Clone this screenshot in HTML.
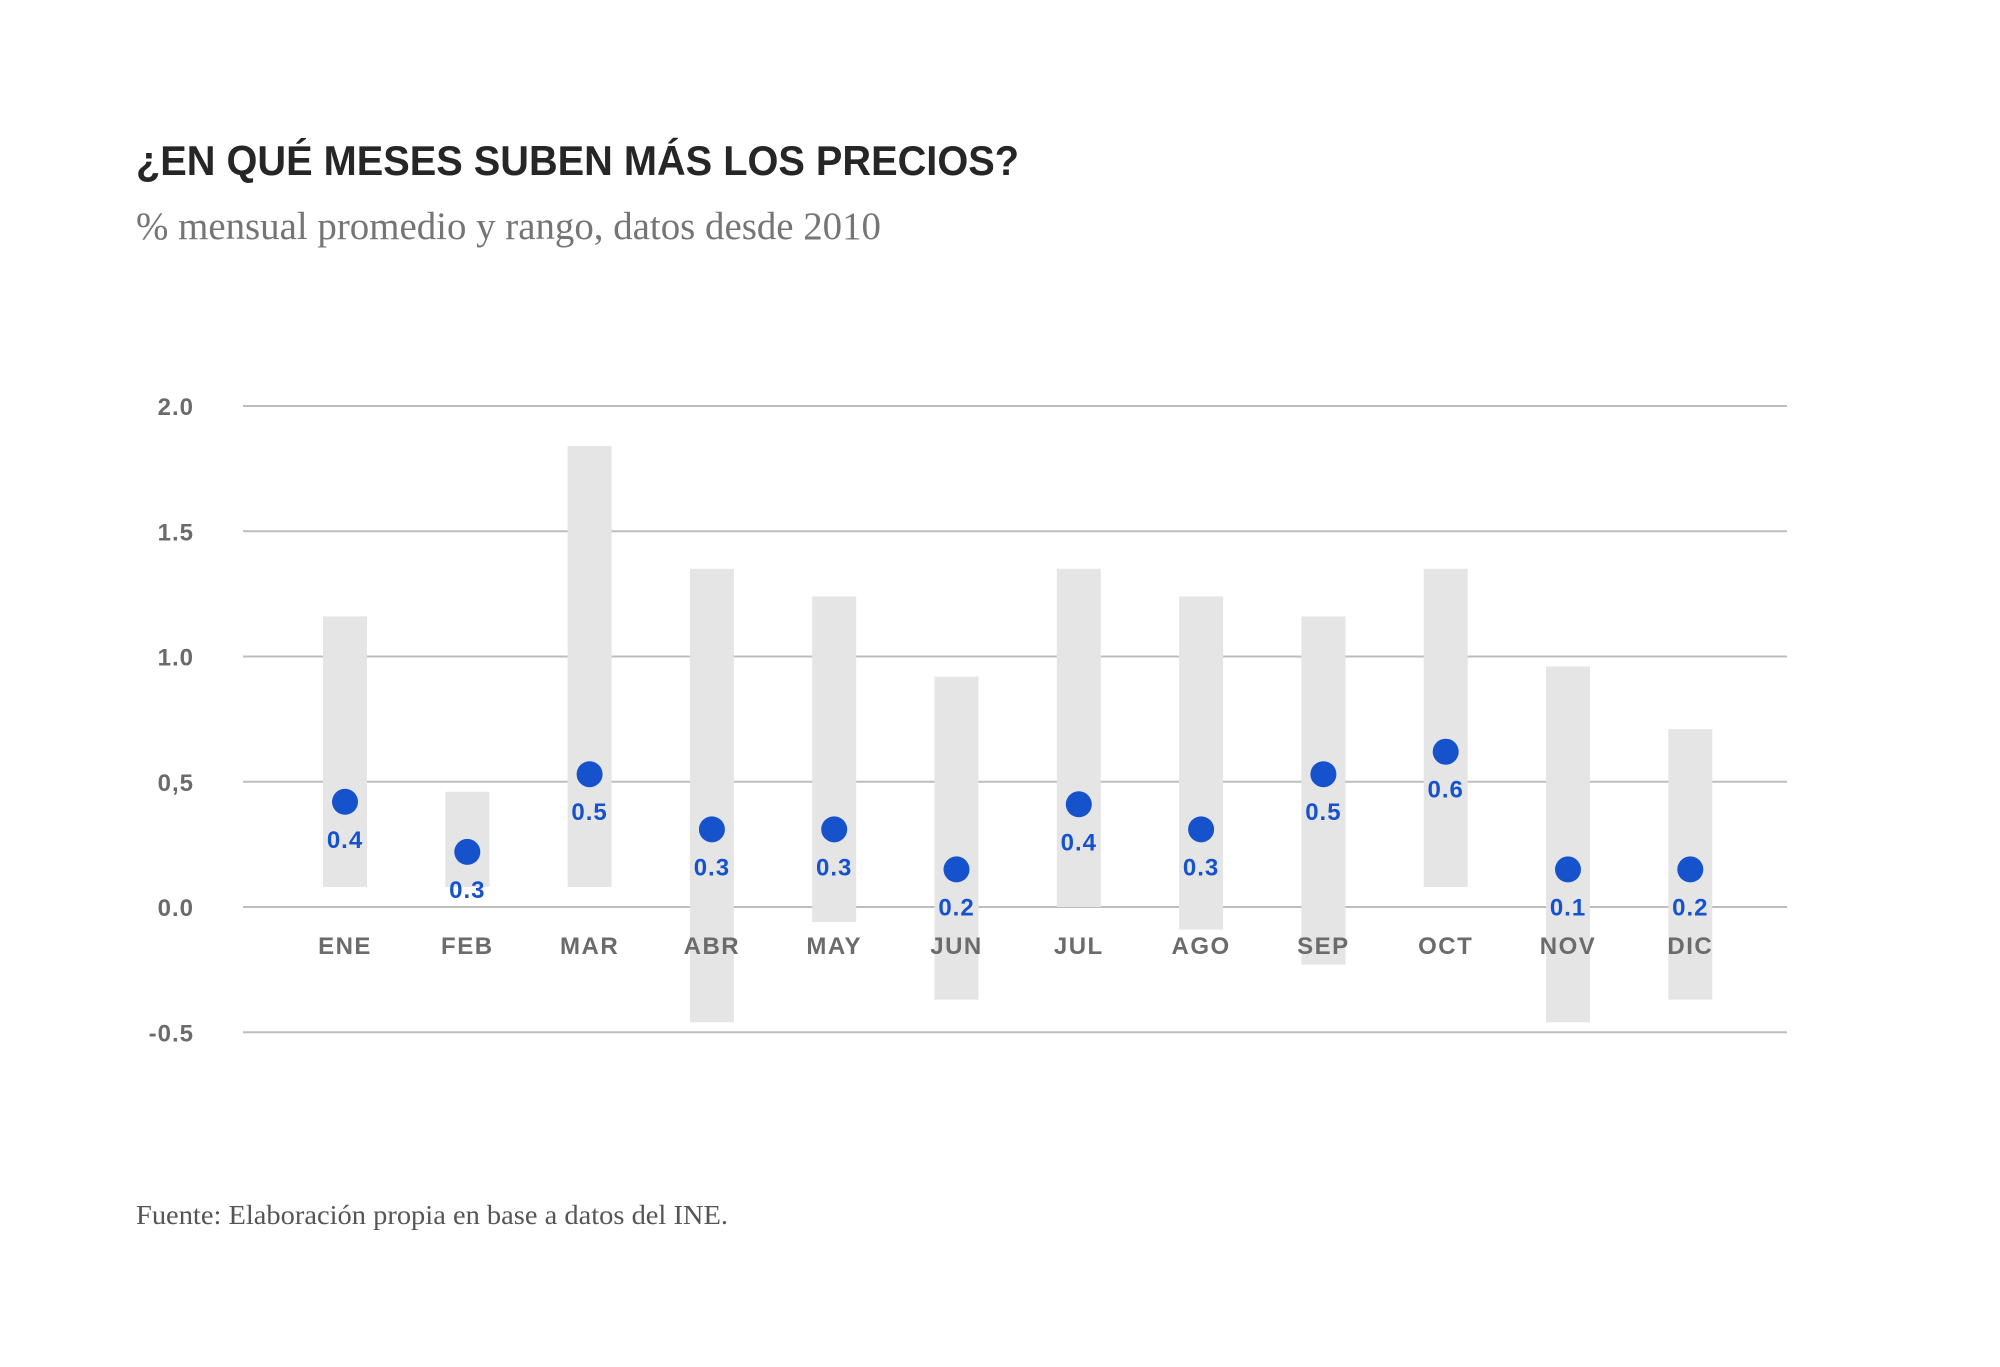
<!DOCTYPE html>
<html><head><meta charset="utf-8"><style>
html,body{margin:0;padding:0;background:#fff;}
svg{display:block;}
</style></head><body>
<svg id="chart" width="2000" height="1367" viewBox="0 0 2000 1367" xmlns="http://www.w3.org/2000/svg">
<text x="136" y="175" font-family="Liberation Sans, sans-serif" font-weight="bold" font-size="42" fill="#262626" textLength="883" lengthAdjust="spacingAndGlyphs">¿EN QUÉ MESES SUBEN MÁS LOS PRECIOS?</text>
<text x="136" y="239" font-family="Liberation Serif, serif" font-size="39" fill="#757575" textLength="745" lengthAdjust="spacingAndGlyphs">% mensual promedio y rango, datos desde 2010</text>
<text x="136" y="1224" font-family="Liberation Serif, serif" font-size="27" fill="#555" textLength="592" lengthAdjust="spacingAndGlyphs">Fuente: Elaboración propia en base a datos del INE.</text>
<g id="grid"></g><g id="bars"></g><g id="dots"></g><g id="labels"></g>
</svg>
<script>
const months=["ENE","FEB","MAR","ABR","MAY","JUN","JUL","AGO","SEP","OCT","NOV","DIC"];
const rangeMax=[1.16,0.46,1.84,1.35,1.24,0.92,1.35,1.24,1.16,1.35,0.96,0.71];
const rangeMin=[0.08,0.08,0.08,-0.46,-0.06,-0.37,0.0,-0.09,-0.23,0.08,-0.46,-0.37];
const avg=[0.42,0.22,0.53,0.31,0.31,0.15,0.41,0.31,0.53,0.62,0.15,0.15];
const valueLabels=["0.4","0.3","0.5","0.3","0.3","0.2","0.4","0.3","0.5","0.6","0.1","0.2"];
const yTicks=[2.0,1.5,1.0,0.5,0.0,-0.5];
const yTickLabels=["2.0","1.5","1.0","0,5","0.0","-0.5"];
const NS="http://www.w3.org/2000/svg";
const y=v=>907-v*250.5;
const x=i=>345+i*122.3;
function mk(tag,attrs,parent){const e=document.createElementNS(NS,tag);for(const k in attrs)e.setAttribute(k,attrs[k]);document.getElementById(parent).appendChild(e);return e;}
yTicks.forEach((t,i)=>{
  const l=mk('line',{x1:243,x2:1787,y1:y(t),y2:y(t),stroke:'#bdbdbd','stroke-width':2},'grid');
  
  
  const tx=mk('text',{x:194,y:y(t)+9,'text-anchor':'end','font-family':'Liberation Sans, sans-serif','font-weight':'bold','font-size':24,fill:'#6b6b6b','letter-spacing':1},'grid');
  tx.textContent=yTickLabels[i];
  
  
});
months.forEach((m,i)=>{
  const r=mk('rect',{x:x(i)-22,width:44,y:y(rangeMax[i]),height:y(rangeMin[i])-y(rangeMax[i]),fill:'#e5e5e5'},'bars');
  
  
  const c=mk('circle',{cx:x(i),cy:y(avg[i]),r:13,fill:'#1652cc'},'dots');
  
  
  const vl=mk('text',{x:x(i),y:y(avg[i])+46,'text-anchor':'middle','font-family':'Liberation Sans, sans-serif','font-weight':'bold','font-size':24,fill:'#1652cc','letter-spacing':1},'labels');
  vl.textContent=valueLabels[i];
  
  
  const ml=mk('text',{x:x(i),y:954,'text-anchor':'middle','font-family':'Liberation Sans, sans-serif','font-weight':'bold','font-size':24,fill:'#6b6b6b','letter-spacing':1.5},'labels');
  ml.textContent=m;
  
  
});
</script>
</body></html>
